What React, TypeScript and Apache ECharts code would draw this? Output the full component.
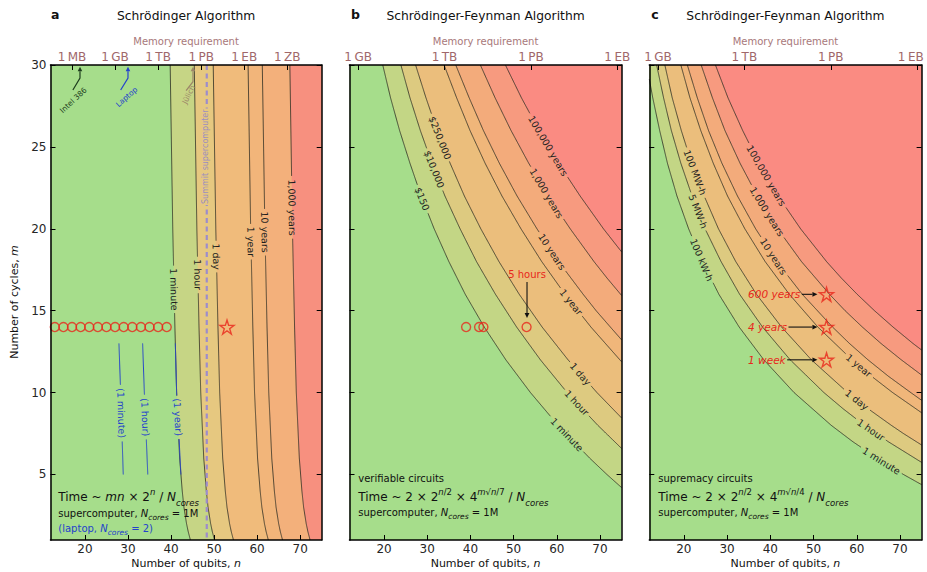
import React, { useEffect, useRef } from "react";
import * as echarts from "echarts";

type Pt = [number, number];

const FONT = '"DejaVu Sans", "Liberation Sans", sans-serif';

// ---------- axes ----------
const N_MIN = 12, N_MAX = 75, M_MIN = 1, M_MAX = 30;
const qubitTicks = [20, 30, 40, 50, 60, 70];
const cycleTicks = [5, 10, 15, 20, 25, 30];
const memTicksSch = [17, 27, 37, 47, 57, 67];
const memLabelsSch = ["1\u2009MB", "1\u2009GB", "1\u2009TB", "1\u2009PB", "1\u2009EB", "1\u2009ZB"];
const memTicksSF = [14, 34, 54, 74];
const memLabelsSF = ["1\u2009GB", "1\u2009TB", "1\u2009PB", "1\u2009EB"];

// ---------- panel a: Schrodinger contours [n, m] ----------
const schMinute: Pt[] = [[39.8,30],[40.4,20],[40.9,14],[41.3,10],[42.0,6],[42.6,4],[43.0,3],[43.6,2],[44.0,1.5],[44.5,1]];
const schHour: Pt[] = [[45.4,30],[46.0,20],[46.5,14],[46.9,10],[47.6,6],[48.2,4],[48.6,3],[49.2,2],[49.6,1.5],[50.1,1]];
const schDay: Pt[] = [[49.8,30],[50.4,20],[50.9,14],[51.3,10],[52.0,6],[52.6,4],[53.0,3],[53.6,2],[54.0,1.5],[54.5,1]];
const schYear: Pt[] = [[57.9,30],[58.5,20],[59.0,14],[59.4,10],[60.1,6],[60.7,4],[61.1,3],[61.7,2],[62.1,1.5],[62.6,1]];
const schDecade: Pt[] = [[61.2,30],[61.8,20],[62.3,14],[62.7,10],[63.4,6],[64.0,4],[64.4,3],[65.0,2],[65.4,1.5],[65.9,1]];
const schMillennium: Pt[] = [[67.6,30],[68.2,20],[68.7,14],[69.1,10],[69.8,6],[70.4,4],[70.8,3],[71.4,2],[71.8,1.5],[72.3,1]];
// laptop contours (blue)
const lapMinute: Pt[] = [[27.9,13],[28.3,10],[28.9,5]];
const lapHour: Pt[] = [[33.4,13],[33.8,10],[34.6,5]];
const lapYear: Pt[] = [[41.0,13],[41.3,10],[42.3,5]];

// ---------- panel b: verifiable circuits ----------
const verMinute: Pt[] = [[19.7,30],[21.5,28],[23.6,26],[26.0,24],[28.6,22],[31.6,20],[35.0,18],[38.8,16],[43.2,14],[48.2,12],[53.9,10],[60.3,8],[67.6,6],[71.6,5],[75,4.2]];
const verHour: Pt[] = [[23.9,30],[26.0,28],[28.4,26],[31.1,24],[34.1,22],[37.6,20],[41.4,18],[45.8,16],[50.7,14],[56.2,12],[62.4,10],[69.5,8],[75,6.59]];
const verDay: Pt[] = [[27.3,30],[29.7,28],[32.3,26],[35.3,24],[38.6,22],[42.4,20],[46.6,18],[51.3,16],[56.6,14],[62.6,12],[69.3,10],[75,8.45]];
const verYear: Pt[] = [[33.9,30],[36.8,28],[39.9,26],[43.4,24],[47.3,22],[51.7,20],[56.5,18],[61.9,16],[67.9,14],[75,11.88]];
const verDecade: Pt[] = [[36.6,30],[39.7,28],[43.0,26],[46.7,24],[50.8,22],[55.4,20],[60.4,18],[66.1,16],[69.1,15],[72.4,14],[75,13.22]];
const verMillennium: Pt[] = [[42.3,30],[45.7,28],[49.4,26],[53.5,24],[58.0,22],[63.1,20],[68.6,18],[71.6,17],[75,15.93]];
const verEon: Pt[] = [[48.1,30],[51.8,28],[55.9,26],[60.4,24],[65.4,22],[70.8,20],[75,18.59]];

// ---------- panel c: supremacy circuits ----------
const supMinute: Pt[] = [[12,29.13],[12.8,28],[14.4,26],[16.2,24],[18.4,22],[21.1,20],[24.3,18],[28.1,16],[32.8,14],[38.5,12],[45.5,10],[54.1,8],[59.1,7],[64.7,6],[70.8,5],[75,4.38]];
const supHour: Pt[] = [[13.7,30],[15.3,28],[17.1,26],[19.3,24],[21.9,22],[24.9,20],[28.6,18],[32.9,16],[38.2,14],[44.6,12],[52.4,10],[56.9,9],[61.8,8],[67.3,7],[75,5.74]];
const supDay: Pt[] = [[15.6,30],[17.3,28],[19.4,26],[21.8,24],[24.7,22],[28.0,20],[32.0,18],[36.8,16],[42.6,14],[49.5,12],[57.9,10],[62.7,9],[68.0,8],[70.8,7.5],[75,6.8]];
const supYear: Pt[] = [[19.3,30],[21.4,28],[23.9,26],[26.8,24],[30.1,22],[34.1,20],[38.8,18],[44.4,16],[51.0,14],[58.9,12],[63.4,11],[68.3,10],[75,8.77]];
const supDecade: Pt[] = [[20.8,30],[23.1,28],[25.7,26],[28.8,24],[32.4,22],[36.6,20],[41.5,18],[47.4,16],[54.4,14],[58.3,13],[62.6,12],[67.3,11],[72.5,10],[75,9.53]];
const supMillennium: Pt[] = [[24.0,30],[26.6,28],[29.5,26],[33.0,24],[37.0,22],[41.7,20],[47.2,18],[53.7,16],[57.3,15],[61.3,14],[65.6,13],[70.3,12],[75,11.07]];
const supEon: Pt[] = [[27.3,30],[30.2,28],[33.6,26],[37.4,24],[41.8,22],[47.0,20],[53.0,18],[56.4,17],[60.1,16],[64.1,15],[68.4,14],[73.0,13],[75,12.6]];

// ---------- contour labels ----------
type Lbl = { line: number; text: string; at: Pt; gapOnly?: boolean };
const labelsSch: Lbl[] = [
  { line: 0, text: "1 minute", at: [40.3, 16.3] },
  { line: 0, text: "(1 year)", at: [41.5, 8.5], gapOnly: true },
  { line: 1, text: "1 hour", at: [46.2, 17.2] },
  { line: 2, text: "1 day", at: [50.6, 18.3] },
  { line: 3, text: "1 year", at: [58.7, 19.2] },
  { line: 4, text: "10 years", at: [61.9, 19.8] },
  { line: 5, text: "1,000 years", at: [68.2, 21.3] },
];
const labelsLap: Lbl[] = [
  { line: 0, text: "(1 minute)", at: [28.4, 8.75] },
  { line: 1, text: "(1 hour)", at: [33.9, 8.5] },
  { line: 2, text: "(1 year)", at: [41.5, 8.5] },
];
const labelsVer: Lbl[] = [
  { line: 0, text: "$150", at: [28.6, 21.8] },
  { line: 1, text: "$10,000", at: [31.3, 23.6] },
  { line: 2, text: "$250,000", at: [32.5, 25.5] },
  { line: 0, text: "1 minute", at: [61.8, 7.3] },
  { line: 1, text: "1 hour", at: [64.1, 9.25] },
  { line: 2, text: "1 day", at: [64.9, 11.0] },
  { line: 3, text: "1 year", at: [63.0, 15.45] },
  { line: 4, text: "10 years", at: [58.3, 18.5] },
  { line: 5, text: "1,000 years", at: [57.2, 22.1] },
  { line: 6, text: "100,000 years", at: [57.6, 25.0] },
];
const labelsSup: Lbl[] = [
  { line: 0, text: "100 kW-h", at: [24.1, 18.1] },
  { line: 1, text: "5 MW-h", at: [23.7, 21.1] },
  { line: 2, text: "100 MW-h", at: [22.2, 23.4] },
  { line: 6, text: "100,000 years", at: [38.8, 23.2] },
  { line: 5, text: "1,000 years", at: [39.2, 21.05] },
  { line: 4, text: "10 years", at: [40.7, 18.3] },
  { line: 3, text: "1 year", at: [60.0, 11.5] },
  { line: 2, text: "1 day", at: [60.0, 9.55] },
  { line: 1, text: "1 hour", at: [62.7, 7.5] },
  { line: 0, text: "1 minute", at: [65.4, 5.7] },
];

// ---------- markers ----------
const simQubitsSch = [13, 15, 17, 19, 21, 23, 25, 27, 29, 31, 33, 35, 37, 39];
const simCycles = 14;
const starSch: Pt[] = [[53, 14]];
const circlesVer: Pt[] = [[39, 14], [42, 14], [43, 14], [53, 14]];
const starsSup: Pt[] = [[53, 16], [53, 14], [53, 12]];
const supNotes = [
  { text: "600 years", m: 16 },
  { text: "4 years", m: 14 },
  { text: "1 week", m: 12 },
];
const summitQubits = 48.3;

// ---------- colours ----------
const bandColorsSch = ["#a6dd8b", "#c6d585", "#e6c880", "#f0bb7b", "#f2b57a", "#f3b07b", "#f7907f"];
const bandColorsSF = ["#a6dd8b", "#c3d685", "#ddca80", "#ebbe7c", "#f0b67a", "#f3ab7b", "#f79a7f", "#fa8b82"];
const RED = "#e8271b";
const BLUE = "#2443cc";
const LINE_STROKE = "rgba(45,45,35,0.9)";
const LABEL_SIZE = 9.5;

const STAR = "path://M10,0 L12.245,6.91 L19.511,6.91 L13.633,11.18 L15.878,18.09 L10,13.82 L4.122,18.09 L6.367,11.18 L0.489,6.91 L7.755,6.91 Z";

let measureCtx: CanvasRenderingContext2D | null = null;
function textWidth(t: string, size: number, style = "") {
  if (!measureCtx) measureCtx = document.createElement("canvas").getContext("2d");
  if (!measureCtx) return t.length * size * 0.6;
  measureCtx.font = `${style} ${size}px "DejaVu Sans"`;
  return measureCtx.measureText(t).width;
}

function project(px: number[][], p: number[]) {
  let best = { d: Infinity, x: 0, y: 0, ang: 0 };
  for (let i = 0; i < px.length - 1; i++) {
    const [x0, y0] = px[i], [x1, y1] = px[i + 1];
    const dx = x1 - x0, dy = y1 - y0;
    const L2 = dx * dx + dy * dy;
    let t = L2 > 0 ? ((p[0] - x0) * dx + (p[1] - y0) * dy) / L2 : 0;
    t = Math.max(0, Math.min(1, t));
    const x = x0 + t * dx, y = y0 + t * dy;
    const d = Math.hypot(p[0] - x, p[1] - y);
    if (d < best.d) best = { d, x, y, ang: Math.atan2(dy, dx) };
  }
  return best;
}

function splitWithGaps(px: number[][], gaps: { x: number; y: number; r: number }[]) {
  const out: number[][][] = [];
  let cur: number[][] = [];
  for (let i = 0; i < px.length - 1; i++) {
    const [x0, y0] = px[i], [x1, y1] = px[i + 1];
    const len = Math.hypot(x1 - x0, y1 - y0);
    const steps = Math.max(1, Math.ceil(len));
    for (let s = i === 0 ? 0 : 1; s <= steps; s++) {
      const t = s / steps;
      const x = x0 + (x1 - x0) * t, y = y0 + (y1 - y0) * t;
      const inGap = gaps.some((g) => Math.hypot(x - g.x, y - g.y) < g.r);
      if (inGap) {
        if (cur.length > 1) out.push(cur);
        cur = [];
      } else cur.push([x, y]);
    }
  }
  if (cur.length > 1) out.push(cur);
  return out;
}

function drawContours(c: (p: Pt) => number[], lines: Pt[][], labels: Lbl[], stroke: string, textColor: string, lineEls: any[], textEls: any[], width = 0.9) {
  lines.forEach((ln, k) => {
    const px = ln.map(c);
    const gaps: { x: number; y: number; r: number }[] = [];
    labels.filter((l) => l.line === k).forEach((l) => {
      const p = project(px, c(l.at));
      const w = textWidth(l.text, LABEL_SIZE);
      gaps.push({ x: p.x, y: p.y, r: w / 2 + 2.5 });
      if (l.gapOnly) return;
      textEls.push({
        type: "text", x: p.x, y: p.y, rotation: -p.ang, silent: true,
        style: { text: l.text, fill: textColor, fontSize: LABEL_SIZE, fontFamily: FONT, align: "center", verticalAlign: "middle" },
      });
    });
    splitWithGaps(px, gaps).forEach((seg) =>
      lineEls.push({ type: "polyline", silent: true, shape: { points: seg }, style: { stroke, lineWidth: width, fill: null } })
    );
  });
}

function arrowEls(pts: number[][], color: string, width = 1, head = 5, hw = 2.4) {
  const n = pts.length;
  const tip = pts[n - 1], prev = pts[n - 2];
  const ang = Math.atan2(tip[1] - prev[1], tip[0] - prev[0]);
  const base = [tip[0] - head * Math.cos(ang), tip[1] - head * Math.sin(ang)];
  const shaft = [...pts.slice(0, n - 1), base];
  const left = [base[0] + hw * Math.sin(ang), base[1] - hw * Math.cos(ang)];
  const right = [base[0] - hw * Math.sin(ang), base[1] + hw * Math.cos(ang)];
  return [
    { type: "polyline", silent: true, shape: { points: shaft }, style: { stroke: color, lineWidth: width, fill: null } },
    { type: "polygon", silent: true, shape: { points: [tip, left, right] }, style: { fill: color } },
  ];
}

const topMarkers = [
  { text: "Intel 386", color: "#1d3d1d", path: [[17.2, 28.47], [18.85, 29.2], [18.85, 29.9]] as Pt[], label: [17.3, 27.85] as Pt, rot: 0.75 },
  { text: "Laptop", color: BLUE, path: [[28.3, 28.47], [30.0, 29.2], [30.0, 29.9]] as Pt[], label: [29.7, 28.05] as Pt, rot: 0.73 },
  { text: "J\u00fclich", color: "#9c8468", path: [[43.5, 28.43], [45.1, 28.98], [45.1, 29.9]] as Pt[], label: [44.1, 28.2] as Pt, rot: 1.1 },
];

type Panel = {
  lines: Pt[][];
  colors: string[];
  labels: Lbl[];
  extra?: (c: (p: Pt) => number[], lineEls: any[], textEls: any[]) => void;
};

const panels: Panel[] = [
  {
    lines: [schMinute, schHour, schDay, schYear, schDecade, schMillennium],
    colors: bandColorsSch,
    labels: labelsSch,
    extra: (c, lineEls, textEls) => {
      drawContours(c, [lapMinute, lapHour, lapYear], labelsLap, BLUE, BLUE, lineEls, textEls, 1);
      const t = c([summitQubits, M_MAX]), b = c([summitQubits, M_MIN]);
      lineEls.push({ type: "line", silent: true, shape: { x1: t[0], y1: t[1], x2: b[0], y2: b[1] }, style: { stroke: "#9d8ccc", lineWidth: 2.2, lineDash: [5, 3.5] } });
      const sp = c([summitQubits - 0.2, 24.4]);
      textEls.push({ type: "text", x: sp[0], y: sp[1], rotation: Math.PI / 2, silent: true, style: { text: "Summit supercomputer", fill: "#9d8fbf", fontSize: 8, fontFamily: FONT, align: "center", verticalAlign: "middle", backgroundColor: bandColorsSch[2], padding: [0, 1] } });
      topMarkers.forEach((mk) => {
        arrowEls(mk.path.map(c), mk.color, 1.2, 4.5, 2.3).forEach((e) => textEls.push(e));
        const lp = c(mk.label);
        textEls.push({ type: "text", x: lp[0], y: lp[1], rotation: mk.rot, silent: true, style: { text: mk.text, fill: mk.color, fontSize: 7.5, fontFamily: FONT, align: "center", verticalAlign: "middle" } });
      });
    },
  },
  {
    lines: [verMinute, verHour, verDay, verYear, verDecade, verMillennium, verEon],
    colors: bandColorsSF,
    labels: labelsVer,
    extra: (c, lineEls, textEls) => {
      const tp = c([53.1, 17.2]);
      textEls.push({ type: "text", x: tp[0], y: tp[1], silent: true, style: { text: "5 hours", fill: RED, fontSize: 10, fontFamily: FONT, align: "center", verticalAlign: "middle" } });
      arrowEls([c([53.1, 16.75]), c([53.1, 14.55])], "#111", 1.1, 5, 2.4).forEach((e) => textEls.push(e));
    },
  },
  {
    lines: [supMinute, supHour, supDay, supYear, supDecade, supMillennium, supEon],
    colors: bandColorsSF,
    labels: labelsSup,
    extra: (c, lineEls, textEls) => {
      supNotes.forEach((nt) => {
        const p = c([34.85, nt.m]);
        const w = textWidth(nt.text, 10.5, "italic");
        textEls.push({ type: "text", x: p[0], y: p[1], silent: true, style: { text: nt.text, fill: RED, fontSize: 10.5, fontStyle: "italic", fontFamily: FONT, align: "left", verticalAlign: "middle" } });
        const tip = c([50.9, nt.m]);
        arrowEls([[p[0] + w + 1.5, p[1]], tip], "#111", 1.1, 5, 2.4).forEach((e) => textEls.push(e));
      });
    },
  },
];

function panelRenderer(panel: Panel) {
  return (_params: any, api: any) => {
    const c = (p: Pt) => api.coord(p) as number[];
    const ch: any[] = [];
    const tl = c([N_MIN, M_MAX]), br = c([N_MAX, M_MIN]);
    ch.push({ type: "rect", silent: true, shape: { x: tl[0], y: tl[1], width: br[0] - tl[0], height: br[1] - tl[1] }, style: { fill: panel.colors[0] } });
    panel.lines.forEach((ln, k) => {
      const last = ln[ln.length - 1];
      const ring: Pt[] = [...ln, [N_MAX, last[1]], [N_MAX, M_MAX], [ln[0][0], M_MAX]];
      ch.push({ type: "polygon", silent: true, shape: { points: ring.map(c) }, style: { fill: panel.colors[k + 1] } });
    });
    const lineEls: any[] = [];
    const textEls: any[] = [];
    drawContours(c, panel.lines, panel.labels, LINE_STROKE, "#1f1f1f", lineEls, textEls);
    if (panel.extra) panel.extra(c, lineEls, textEls);
    return { type: "group", children: [...ch, ...lineEls, ...textEls] };
  };
}

const gridPos = [
  { left: 50.5, width: 271.2 },
  { left: 349.5, width: 272.1 },
  { left: 649.3, width: 272.3 },
];

function gtext(text: string, x: number, y: number, style: any = {}, extra: any = {}) {
  return {
    type: "text", x, y, z: 50, silent: true,
    style: { text, fontFamily: FONT, fill: "#111", fontSize: 12, align: "center", verticalAlign: "middle", ...style },
    ...extra,
  };
}

const mathRich = {
  n: { fontSize: 12, fontFamily: FONT, fill: "#111", lineHeight: 20 },
  i: { fontSize: 12, fontFamily: FONT, fill: "#111", fontStyle: "italic", lineHeight: 20 },
  sp: { fontSize: 8.5, fontFamily: FONT, fill: "#111", lineHeight: 10, verticalAlign: "top" },
  spi: { fontSize: 8.5, fontFamily: FONT, fill: "#111", fontStyle: "italic", lineHeight: 10, verticalAlign: "top" },
  sb: { fontSize: 8.5, fontFamily: FONT, fill: "#111", fontStyle: "italic", lineHeight: 10, verticalAlign: "bottom" },
};
const smallRich = (color: string) => ({
  s: { fontSize: 10, fontFamily: FONT, fill: color, lineHeight: 16 },
  si: { fontSize: 10, fontFamily: FONT, fill: color, fontStyle: "italic", lineHeight: 16 },
  sb: { fontSize: 7.5, fontFamily: FONT, fill: color, fontStyle: "italic", lineHeight: 8, verticalAlign: "bottom" },
});

const MEM_COLOR = "#a0676a";

function buildOption() {
  const xAxis: any[] = [];
  const yAxis: any[] = [];
  const grid: any[] = [];
  const series: any[] = [];
  const axisLine = { show: true, onZero: false, lineStyle: { color: "#000", width: 1.5 } };
  gridPos.forEach((g, i) => {
    grid.push({ left: g.left, width: g.width, top: 65, height: 475, containLabel: false, outerBoundsMode: "none", show: false });
    const memTicks = i === 0 ? memTicksSch : memTicksSF;
    const memLabels = i === 0 ? memLabelsSch : memLabelsSF;
    xAxis.push({
      type: "value", gridIndex: i, position: "bottom", min: N_MIN, max: N_MAX, z: 10,
      axisLine, splitLine: { show: false },
      axisTick: { show: true, inside: true, length: 5, customValues: qubitTicks, lineStyle: { color: "#000", width: 1 } },
      axisLabel: { show: true, customValues: qubitTicks, color: "#262626", fontSize: 12, margin: 3, fontFamily: FONT },
    });
    xAxis.push({
      type: "value", gridIndex: i, position: "top", min: N_MIN, max: N_MAX, z: 10,
      axisLine, splitLine: { show: false },
      axisTick: { show: true, inside: true, length: 5, customValues: memTicks, lineStyle: { color: "#000", width: 1 } },
      axisLabel: {
        show: true, customValues: memTicks, color: MEM_COLOR, fontSize: 12, margin: 2, fontFamily: FONT,
        rich: { e: { color: MEM_COLOR, fontSize: 12, fontFamily: FONT, padding: [0, 13, 0, 0] } },
        formatter: (v: number) => {
          let best = 0;
          memTicks.forEach((t, k) => { if (Math.abs(t - v) < Math.abs(memTicks[best] - v)) best = k; });
          if (i === 2 && best === memTicks.length - 1) return `{e|${memLabels[best]}}`;
          return memLabels[best];
        },
      },
    });
    yAxis.push({
      type: "value", gridIndex: i, position: "left", min: M_MIN, max: M_MAX, z: 10,
      axisLine, splitLine: { show: false },
      axisTick: { show: true, inside: true, length: 5, customValues: cycleTicks, lineStyle: { color: "#000", width: 1 } },
      axisLabel: { show: i === 0, customValues: cycleTicks, color: "#262626", fontSize: 12, margin: 4, fontFamily: FONT },
    });
    yAxis.push({
      type: "value", gridIndex: i, position: "right", min: M_MIN, max: M_MAX, z: 10,
      axisLine, splitLine: { show: false },
      axisTick: { show: true, inside: true, length: 5, customValues: cycleTicks, lineStyle: { color: "#000", width: 1 } },
      axisLabel: { show: false },
    });
    series.push({
      type: "custom", xAxisIndex: 2 * i, yAxisIndex: 2 * i, z: 2, silent: true,
      data: [[N_MIN, M_MIN]], renderItem: panelRenderer(panels[i]),
    });
  });

  const hollow = { color: "rgba(0,0,0,0)", borderColor: RED, borderWidth: 1.4 };
  series.push({ type: "scatter", xAxisIndex: 0, yAxisIndex: 0, z: 4, silent: true, symbol: "circle", symbolSize: 9, data: simQubitsSch.map((n) => [n, simCycles]), itemStyle: hollow });
  series.push({ type: "scatter", xAxisIndex: 0, yAxisIndex: 0, z: 4, silent: true, symbol: STAR, symbolSize: 14, data: starSch, itemStyle: hollow });
  series.push({ type: "scatter", xAxisIndex: 2, yAxisIndex: 2, z: 4, silent: true, symbol: "circle", symbolSize: 9, data: circlesVer, itemStyle: hollow });
  series.push({ type: "scatter", xAxisIndex: 4, yAxisIndex: 4, z: 4, silent: true, symbol: STAR, symbolSize: 14, data: starsSup, itemStyle: hollow });

  const centers = gridPos.map((g) => g.left + g.width / 2);
  const lefts = gridPos.map((g) => g.left);
  const axisTitleRich = (v: string) => ({
    r: { fontSize: 11, fontFamily: FONT, fill: "#111" },
    i: { fontSize: 11, fontFamily: FONT, fill: "#111", fontStyle: "italic" },
  });
  const graphic: any[] = [
    gtext("a", lefts[0] + 0.5, 14, { fontWeight: "bold", fontSize: 12.5, align: "left" }),
    gtext("b", lefts[1] + 1.5, 14, { fontWeight: "bold", fontSize: 12.5, align: "left" }),
    gtext("c", lefts[2] + 2, 14, { fontWeight: "bold", fontSize: 12.5, align: "left" }),
    gtext("Schr\u00f6dinger Algorithm", centers[0], 16, { fontSize: 12.3 }),
    gtext("Schr\u00f6dinger-Feynman Algorithm", centers[1], 16, { fontSize: 12.3 }),
    gtext("Schr\u00f6dinger-Feynman Algorithm", centers[2], 16, { fontSize: 12.3 }),
    ...centers.map((cx) => gtext("Memory requirement", cx, 41, { fontSize: 10, fill: "#a8787a" })),
    ...centers.map((cx) => gtext("{r|Number of qubits, }{i|n}", cx, 563, { rich: axisTitleRich("n") })),
    gtext("{r|Number of cycles, }{i|m}", 14, 302, { rich: axisTitleRich("m") }, { rotation: Math.PI / 2 }),
    // panel a formula
    gtext("{n|Time ~ }{i|mn}{n| \u00d7 2}{spi|n}{n| / }{i|N}{sb|cores}", lefts[0] + 7.8, 497, { align: "left", rich: mathRich }),
    gtext("{s|supercomputer, }{si|N}{sb|cores}{s| = 1M}", lefts[0] + 7.8, 513, { align: "left", rich: smallRich("#111") }),
    gtext("{s|(laptop, }{si|N}{sb|cores}{s| = 2)}", lefts[0] + 7.8, 528, { align: "left", rich: smallRich(BLUE) }),
    // panel b
    gtext("verifiable circuits", lefts[1] + 8.8, 478.3, { align: "left", fontSize: 10 }),
    gtext("{n|Time ~ 2 \u00d7 2}{spi|n}{sp|/2}{n| \u00d7 4}{spi|m}{sp|\u221a}{spi|n}{sp|/7}{n| / }{i|N}{sb|cores}", lefts[1] + 8.8, 497, { align: "left", rich: mathRich }),
    gtext("{s|supercomputer, }{si|N}{sb|cores}{s| = 1M}", lefts[1] + 8.8, 512.5, { align: "left", rich: smallRich("#111") }),
    // panel c
    gtext("supremacy circuits", lefts[2] + 9, 478.3, { align: "left", fontSize: 10 }),
    gtext("{n|Time ~ 2 \u00d7 2}{spi|n}{sp|/2}{n| \u00d7 4}{spi|m}{sp|\u221a}{spi|n}{sp|/4}{n| / }{i|N}{sb|cores}", lefts[2] + 9, 497, { align: "left", rich: mathRich }),
    gtext("{s|supercomputer, }{si|N}{sb|cores}{s| = 1M}", lefts[2] + 9, 512.5, { align: "left", rich: smallRich("#111") }),
  ];

  return {
    animation: false,
    backgroundColor: "#fff",
    textStyle: { fontFamily: FONT },
    grid, xAxis, yAxis, series, graphic,
  };
}

export default function App() {
  const ref = useRef<HTMLDivElement>(null);
  useEffect(() => {
    document.body.style.margin = "0";
    const chart = echarts.init(ref.current as HTMLDivElement, null, { renderer: "svg" });
    chart.setOption(buildOption() as any);
    return () => chart.dispose();
  }, []);
  return <div ref={ref} style={{ width: 927, height: 572 }} />;
}
